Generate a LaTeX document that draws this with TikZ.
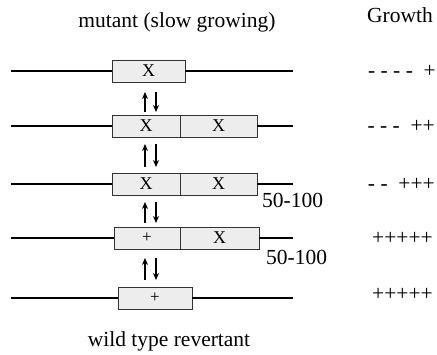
\documentclass[tikz,border=0pt]{standalone}
\usepackage{fontspec}
\setmainfont{Liberation Serif}
\usetikzlibrary{arrows.meta}
\begin{document}
\begin{tikzpicture}[x=1pt,y=-1pt,
  seg/.style={draw=black!80, fill=black!7, line width=0.8pt, minimum height=22pt,
    inner sep=0pt, outer sep=0pt, font=\fontsize{18}{18}\selectfont},
  plusseg/.style={seg, font=\fontsize{17}{17}\selectfont},
  dna/.style={line width=1.1pt},
  conv/.style={line width=1.3pt, -{Stealth[length=7pt,width=6pt]}},
  lbl/.style={font=\fontsize{21.5}{24}\selectfont, inner sep=0pt},
  growth/.style={lbl, anchor=base east}]
\useasboundingbox (0,0) rectangle (437,355);

% titles
\node[lbl, anchor=base] (title) at (177,28) {mutant (slow growing)};
\node[lbl, anchor=base] (growthhead) at (400,23) {Growth};
\node[lbl, anchor=base] (wt) at (169,347) {wild type revertant};

% row 1
\node[seg, minimum width=73pt] (b1) at (148.5,71) {X};
% row 2
\node[seg, minimum width=68pt] (b2a) at (146,126) {X};
\node[seg, minimum width=77pt, anchor=west] (b2b) at (b2a.east) {X};
% row 3
\node[seg, minimum width=68pt] (b3a) at (146,184) {X};
\node[seg, minimum width=77pt, anchor=west] (b3b) at (b3a.east) {X};
% row 4
\node[plusseg, minimum width=66pt] (b4a) at (147,238) {+};
\node[seg, minimum width=79pt, anchor=west] (b4b) at (b4a.east) {X};
% row 5
\node[plusseg, minimum width=74pt] (b5) at (155,298) {+};

% chromosome lines
\foreach \r/\y/\lb/\rb in {1/71/b1/b1, 2/126/b2a/b2b, 3/184/b3a/b3b, 4/238/b4a/b4b, 5/298/b5/b5}{
  \coordinate (l\r) at (11,\y);
  \coordinate (r\r) at (293,\y);
  \draw[dna] (l\r) -- (\lb.west);
  \draw[dna] (\rb.east) -- (r\r);
}

% reversible arrows
\foreach \k/\t/\b in {1/92/112, 2/144/167, 3/202/223, 4/258/280}{
  \coordinate (ua\k) at (145,\b);
  \coordinate (ub\k) at (145,\t);
  \coordinate (da\k) at (156,\t);
  \coordinate (db\k) at (156,\b);
  \draw[conv] (ua\k) -- (ub\k);
  \draw[conv] (da\k) -- (db\k);
}

% repeat lengths
\node[lbl, anchor=base west] (len3) at (262,208) {50-100};
\node[lbl, anchor=base west] (len4) at (266,265) {50-100};

% growth column
\node[growth] (g1) at (436,78) {-~-~-~-~~+};
\node[growth] (g2) at (435,133) {-~-~-~~++};
\node[growth] (g3) at (435,191) {-~-~~+++};
\node[growth] (g4) at (433,245) {+++++};
\node[growth] (g5) at (433,301) {+++++};
\end{tikzpicture}
\end{document}
